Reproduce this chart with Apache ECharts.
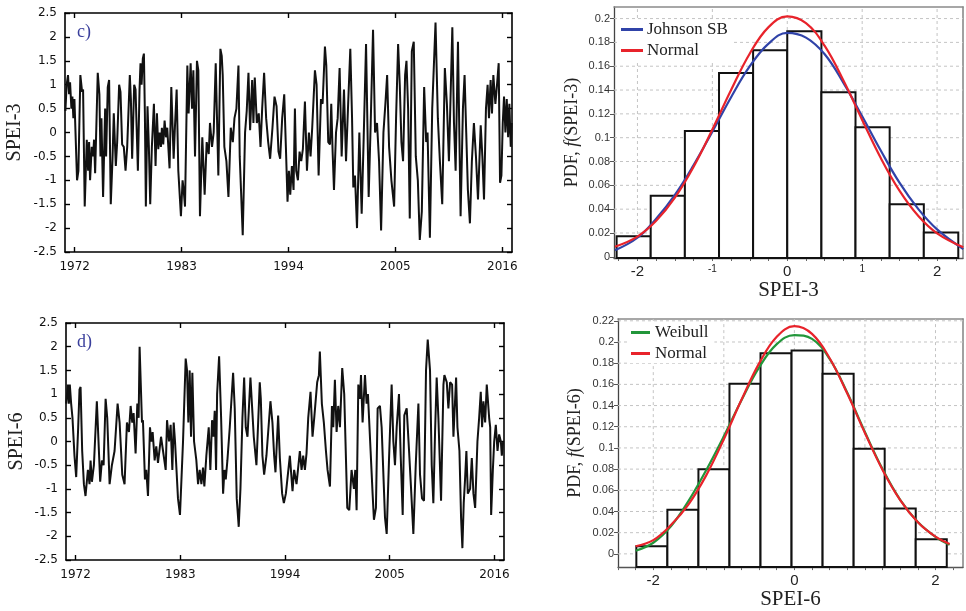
<!DOCTYPE html>
<html><head><meta charset="utf-8">
<script src="https://cdn.jsdelivr.net/npm/echarts@6/dist/echarts.min.js"></script>
<style>html,body{margin:0;padding:0;background:#fff}#c{width:966px;height:611px}</style>
</head><body><div id="c"></div>
<script>
// ---------- data ----------
const yearTicks = [1972, 1983, 1994, 2005, 2016];

const spei3 = [
[1971.04,0.45],[1971.17,1.0],[1971.31,1.2],[1971.42,0.8],[1971.52,1.05],[1971.66,0.5],[1971.76,0.75],[1971.86,0.3],[1971.97,0.7],[1972.24,-1.0],[1972.38,-0.8],[1972.58,1.2],[1972.76,0.85],[1972.86,0.9],[1973.03,-1.55],[1973.24,-0.15],[1973.38,-0.8],[1973.48,-0.2],[1973.58,-1.0],[1973.75,-0.3],[1973.89,-0.5],[1973.99,-0.15],[1974.10,-0.85],[1974.37,1.25],[1974.54,0.8],[1974.65,-0.5],[1974.75,0.3],[1974.92,-1.35],[1975.13,0.5],[1975.23,-0.5],[1975.40,0.95],[1975.54,1.1],[1975.71,-1.5],[1975.89,-0.55],[1976.02,0.4],[1976.23,-0.7],[1976.37,-0.2],[1976.57,1.0],[1976.71,0.85],[1976.88,-0.25],[1977.05,-0.3],[1977.23,-0.8],[1977.40,-0.3],[1977.67,1.2],[1977.78,0.7],[1977.91,-0.55],[1978.12,1.0],[1978.26,0.9],[1978.50,-0.8],[1978.67,0.9],[1978.77,1.45],[1978.88,1.0],[1979.01,1.55],[1979.12,1.65],[1979.22,0.4],[1979.32,-1.55],[1979.49,0.55],[1979.63,-0.3],[1979.77,-1.5],[1979.94,-0.3],[1980.15,0.6],[1980.32,-0.7],[1980.46,0.4],[1980.60,-0.35],[1980.73,0.0],[1980.87,-0.3],[1980.97,0.1],[1981.11,-0.25],[1981.25,0.25],[1981.39,-0.1],[1981.52,0.1],[1981.76,-0.75],[1981.94,0.95],[1982.18,-0.55],[1982.31,0.1],[1982.49,0.9],[1982.66,-0.8],[1982.93,-1.75],[1983.10,-1.0],[1983.21,-1.2],[1983.35,-1.55],[1983.59,1.4],[1983.72,0.4],[1983.93,1.45],[1984.07,0.5],[1984.21,1.3],[1984.38,-0.5],[1984.58,1.5],[1984.72,1.3],[1984.89,-1.75],[1985.13,-0.1],[1985.37,-1.3],[1985.58,-0.2],[1985.79,-0.45],[1985.92,0.2],[1986.13,-0.3],[1986.30,0.0],[1986.51,1.45],[1986.78,-0.9],[1986.99,1.75],[1987.13,1.6],[1987.23,1.2],[1987.40,-0.3],[1987.61,-0.6],[1987.82,-1.35],[1988.06,0.1],[1988.27,-0.2],[1988.44,0.3],[1988.64,0.5],[1988.85,1.4],[1988.98,-0.5],[1989.29,-2.15],[1989.53,0.0],[1989.70,0.45],[1989.88,1.25],[1990.05,0.05],[1990.26,1.1],[1990.39,0.2],[1990.53,1.15],[1990.74,0.2],[1990.94,0.4],[1991.12,-0.3],[1991.29,0.5],[1991.49,1.25],[1991.70,0.3],[1991.91,-0.2],[1992.11,-0.55],[1992.35,0.1],[1992.56,0.75],[1992.77,0.55],[1992.97,-0.4],[1993.14,-0.55],[1993.35,0.3],[1993.56,0.8],[1993.73,-0.3],[1993.90,-1.45],[1994.04,-0.8],[1994.18,-1.3],[1994.35,-0.7],[1994.52,-1.2],[1994.66,0.5],[1994.79,-0.8],[1994.97,-1.0],[1995.14,-0.4],[1995.31,-0.6],[1995.48,-0.35],[1995.69,0.65],[1995.90,-0.8],[1996.10,0.0],[1996.27,-0.5],[1996.44,0.1],[1996.72,1.3],[1996.89,1.0],[1997.10,-0.9],[1997.34,0.7],[1997.51,0.6],[1997.75,1.8],[1997.89,1.4],[1998.09,-0.2],[1998.27,-0.25],[1998.40,0.6],[1998.54,-0.4],[1998.68,-1.2],[1998.89,0.0],[1999.06,0.3],[1999.26,1.35],[1999.47,-0.5],[1999.71,0.9],[1999.92,-0.6],[2000.12,0.5],[2000.36,1.75],[2000.54,0.3],[2000.67,-1.15],[2000.84,-0.9],[2001.05,-2.0],[2001.29,0.0],[2001.53,-1.7],[2001.74,-0.1],[2001.98,1.85],[2002.25,-1.35],[2002.46,0.2],[2002.70,2.15],[2002.91,0.0],[2003.11,0.2],[2003.32,-0.6],[2003.53,-2.05],[2003.77,0.0],[2003.97,0.6],[2004.15,1.2],[2004.35,-0.3],[2004.59,-1.0],[2004.87,-1.55],[2005.07,0.3],[2005.28,1.85],[2005.45,1.0],[2005.62,-0.2],[2005.79,-0.6],[2006.00,1.2],[2006.14,1.5],[2006.31,0.5],[2006.48,-1.8],[2006.69,1.7],[2006.89,1.9],[2007.10,-0.5],[2007.31,-1.0],[2007.51,-2.25],[2007.72,-1.65],[2007.96,0.95],[2008.17,-0.2],[2008.31,0.0],[2008.55,-2.2],[2008.79,0.5],[2009.13,2.3],[2009.37,0.3],[2009.58,-0.6],[2009.82,-1.5],[2010.09,1.35],[2010.30,0.6],[2010.51,-0.6],[2010.86,2.2],[2011.03,0.2],[2011.20,-0.8],[2011.44,1.9],[2011.71,-1.75],[2011.95,0.5],[2012.12,1.2],[2012.29,0.0],[2012.46,-1.2],[2012.67,-1.9],[2012.87,-0.6],[2013.08,0.2],[2013.29,-0.5],[2013.50,-1.4],[2013.78,0.15],[2013.95,-0.5],[2014.12,-1.4],[2014.32,0.5],[2014.49,1.0],[2014.63,0.3],[2014.80,1.1],[2014.94,0.4],[2015.08,1.2],[2015.29,0.6],[2015.46,1.0],[2015.63,1.45],[2015.77,-1.05],[2015.91,-0.9],[2016.05,0.2],[2016.18,0.75],[2016.32,0.0],[2016.46,0.7],[2016.60,-0.1],[2016.73,0.6],[2016.87,-0.3],[2016.97,0.2]
];

const spei6 = [
[1971.02,0.8],[1971.19,1.2],[1971.30,0.8],[1971.40,1.2],[1971.54,0.8],[1971.68,0.5],[1971.89,-0.3],[1972.07,-0.75],[1972.28,0.3],[1972.42,1.1],[1972.53,1.15],[1972.70,-0.2],[1972.88,-0.9],[1973.05,-1.15],[1973.30,-0.6],[1973.47,-0.9],[1973.58,-0.4],[1973.72,-0.85],[1973.93,-0.5],[1974.24,0.85],[1974.42,0.85],[1974.59,-0.85],[1974.77,-0.4],[1974.95,-0.5],[1975.16,0.9],[1975.33,0.5],[1975.58,-0.9],[1975.82,-0.5],[1976.10,-0.2],[1976.42,0.8],[1976.63,0.4],[1976.91,-0.7],[1977.15,-0.9],[1977.40,0.4],[1977.61,0.2],[1977.79,0.75],[1977.96,0.4],[1978.10,0.6],[1978.31,-0.25],[1978.49,0.8],[1978.63,0.5],[1978.73,2.0],[1978.98,0.4],[1979.08,0.45],[1979.29,-0.8],[1979.43,-0.6],[1979.61,-1.15],[1979.82,0.3],[1979.96,0.0],[1980.10,0.2],[1980.31,-0.4],[1980.48,-0.1],[1980.66,-0.45],[1980.98,0.1],[1981.19,0.1],[1981.47,-0.6],[1981.61,0.45],[1981.82,0.0],[1981.99,0.35],[1982.17,-0.6],[1982.31,0.4],[1982.45,0.0],[1982.76,-1.2],[1982.97,-1.55],[1983.29,0.0],[1983.57,1.75],[1983.71,1.5],[1983.85,0.4],[1983.99,1.5],[1984.13,0.1],[1984.27,1.45],[1984.45,0.0],[1984.69,-0.4],[1984.87,-0.9],[1985.04,-0.6],[1985.22,-0.9],[1985.39,-0.55],[1985.53,-0.95],[1985.74,-0.3],[1985.99,0.3],[1986.16,-0.6],[1986.34,0.45],[1986.48,0.1],[1986.62,0.65],[1986.76,-0.6],[1986.87,1.0],[1987.08,1.8],[1987.29,0.5],[1987.50,-1.1],[1987.64,-0.6],[1987.78,-0.8],[1987.95,-0.4],[1988.20,0.3],[1988.55,1.45],[1988.72,0.7],[1988.93,-1.2],[1989.14,-1.8],[1989.32,-1.0],[1989.53,0.5],[1989.71,1.35],[1989.88,0.3],[1990.06,0.1],[1990.37,1.35],[1990.58,0.6],[1990.72,0.1],[1991.00,-0.5],[1991.35,1.25],[1991.46,0.9],[1991.63,-0.3],[1991.81,-0.7],[1992.05,-0.3],[1992.47,0.85],[1992.68,0.4],[1992.86,-0.3],[1993.00,-0.65],[1993.28,0.55],[1993.46,-0.35],[1993.70,-1.1],[1993.88,-1.3],[1994.09,-1.1],[1994.30,-0.7],[1994.51,-0.3],[1994.79,-1.05],[1994.96,-0.6],[1995.21,-0.9],[1995.56,-0.2],[1995.74,-0.6],[1995.91,-0.3],[1996.09,-0.6],[1996.26,-0.25],[1996.44,0.5],[1996.68,1.05],[1996.89,0.1],[1997.07,0.5],[1997.38,1.25],[1997.56,1.4],[1997.66,1.9],[1997.87,0.8],[1998.08,0.4],[1998.30,-0.2],[1998.47,-0.6],[1998.72,-0.95],[1998.93,0.75],[1999.07,0.3],[1999.24,1.3],[1999.42,0.2],[1999.59,0.75],[1999.77,0.3],[2000.01,1.55],[2000.22,1.0],[2000.54,-1.4],[2000.75,-1.45],[2000.99,-0.6],[2001.24,-1.0],[2001.38,-0.6],[2001.52,-1.45],[2001.70,1.2],[2001.87,0.9],[2001.98,1.4],[2002.15,0.4],[2002.40,1.4],[2002.57,0.8],[2002.71,1.0],[2002.99,-0.2],[2003.20,-1.1],[2003.34,-1.65],[2003.55,-1.4],[2003.73,0.7],[2003.97,0.75],[2004.15,0.3],[2004.50,-1.6],[2004.68,-1.95],[2004.92,-0.4],[2005.20,1.2],[2005.38,0.0],[2005.55,-0.5],[2005.73,0.3],[2005.97,1.0],[2006.15,-0.3],[2006.36,-1.55],[2006.53,0.55],[2006.78,0.7],[2007.03,-0.2],[2007.24,-1.0],[2007.48,-1.95],[2007.73,-0.5],[2008.01,0.8],[2008.18,-0.7],[2008.39,-1.2],[2008.60,-1.25],[2008.81,1.5],[2008.99,2.15],[2009.23,1.5],[2009.41,-0.5],[2009.58,-1.3],[2009.76,0.2],[2009.93,1.35],[2010.11,0.5],[2010.39,-1.25],[2010.64,1.2],[2010.74,1.4],[2010.99,1.25],[2011.16,0.7],[2011.34,1.25],[2011.55,1.2],[2011.69,0.1],[2011.97,1.35],[2012.11,0.3],[2012.32,-0.2],[2012.49,-1.6],[2012.63,-2.25],[2012.77,-1.3],[2012.91,-0.8],[2013.05,-0.2],[2013.20,-1.1],[2013.44,-1.0],[2013.62,-0.35],[2013.79,-1.1],[2013.97,-1.4],[2014.21,0.0],[2014.39,0.5],[2014.56,1.05],[2014.70,0.3],[2014.84,0.85],[2015.02,0.4],[2015.19,1.2],[2015.44,0.5],[2015.55,0.3],[2015.65,-1.55],[2015.83,-0.6],[2015.97,0.0],[2016.14,0.35],[2016.32,-0.2],[2016.49,0.15],[2016.67,0.0],[2016.77,-0.3],[2016.91,0.0]
];

// histograms (bin edges and heights)
const hist3Edges = [-2.278,-1.823,-1.367,-0.911,-0.456,0,0.456,0.911,1.367,1.823,2.283];
const hist3Heights = [0.0173,0.0512,0.1057,0.1544,0.1734,0.1894,0.1382,0.1088,0.0442,0.0204];
const hist6Edges = [-2.24,-1.80,-1.36,-0.92,-0.48,-0.04,0.40,0.84,1.28,1.72,2.16];
const hist6Heights = [0.0072,0.0416,0.0798,0.1606,0.1894,0.1919,0.170,0.0992,0.0429,0.0138];

// fitted pdf curves
const curve3X = [-2.3,-2.0,-1.75,-1.5,-1.25,-1.0,-0.75,-0.5,-0.25,0,0.25,0.5,0.75,1.0,1.25,1.5,1.75,2.0,2.35];
const johnson3 = [0.0055,0.016,0.032,0.052,0.077,0.105,0.134,0.160,0.179,0.188,0.184,0.170,0.146,0.118,0.089,0.062,0.040,0.023,0.0065];
const normal3 = [0.0085,0.017,0.0302,0.0496,0.0756,0.1069,0.140,0.1707,0.1928,0.2019,0.1962,0.177,0.148,0.1149,0.0827,0.0553,0.0342,0.0197,0.008];
const curve6X = [-2.25,-2.0,-1.75,-1.5,-1.25,-1.0,-0.75,-0.5,-0.25,0,0.25,0.5,0.75,1.0,1.25,1.5,1.75,2.0,2.2];
const weibull6 = [0.003,0.0105,0.026,0.050,0.079,0.111,0.145,0.176,0.198,0.2065,0.203,0.184,0.152,0.115,0.080,0.051,0.030,0.016,0.0085];
const normal6 = [0.0072,0.013,0.0272,0.0468,0.0741,0.1082,0.1454,0.1798,0.2049,0.2149,0.2076,0.1847,0.1513,0.1141,0.0792,0.0507,0.0298,0.0162,0.0093];

// axis ranges / ticks
const x3Range = [-2.313, 2.346], y3Range = [-0.001, 0.2097];
const x6Range = [-2.5, 2.39], y6Range = [-0.0125, 0.2217];
const pdf3Ticks = [0,0.02,0.04,0.06,0.08,0.1,0.12,0.14,0.16,0.18,0.2];
const pdf6Ticks = [0,0.02,0.04,0.06,0.08,0.1,0.12,0.14,0.16,0.18,0.2,0.22];
const minor3Ticks = [-2.25,-2,-1.75,-1.5,-1.25,-1,-0.75,-0.5,-0.25,0,0.25,0.5,0.75,1,1.25,1.5,1.75,2,2.25];
const minor6Ticks = [-2.5,-2.25,-2,-1.75,-1.5,-1.25,-1,-0.75,-0.5,-0.25,0,0.25,0.5,0.75,1,1.25,1.5,1.75,2,2.25];
const label3X = [-2,-1,0,1,2];
const label6X = [-2,0,2];
const vGrid = [-2,-1,0,1,2];

// ---------- chart ----------
const SANS = 'DejaVu Sans', ARIAL = 'Liberation Sans', SERIF = 'Liberation Serif';
const chart = echarts.init(document.getElementById('c'));

function tsX(grid, top) {
  return {
    gridIndex: grid, type: 'value', min: 1971, max: 2017, position: top ? 'top' : 'bottom',
    splitLine: {show: false},
    axisLine: {show: true, onZero: false, lineStyle: {color: '#000', width: 1.6}},
    axisTick: {show: true, inside: true, length: 5, customValues: yearTicks, lineStyle: {color: '#000', width: 1.4}},
    axisLabel: top ? {show: false} : {show: true, customValues: yearTicks, formatter: v => String(Math.round(v)),
      fontFamily: SANS, fontSize: 12, color: '#111', margin: 9}
  };
}
function tsY(grid, right, name, gap) {
  return {
    gridIndex: grid, type: 'value', min: -2.5, max: 2.5, interval: 0.5, position: right ? 'right' : 'left',
    splitLine: {show: false},
    axisLine: {show: true, onZero: false, lineStyle: {color: '#000', width: 1.6}},
    axisTick: {show: true, inside: true, length: 5, lineStyle: {color: '#000', width: 1.4}},
    axisLabel: right ? {show: false} : {show: true, fontFamily: SANS, fontSize: 12, color: '#111', margin: 8},
    name: right ? '' : name, nameLocation: 'middle', nameGap: gap,
    nameTextStyle: {fontFamily: SERIF, fontSize: 20, color: '#222'}
  };
}
function fmt(v) { return String(parseFloat(Number(v).toFixed(3))); }

function pdfX(grid, range, labels, minor, name, gap) {
  return {
    gridIndex: grid, type: 'value', min: range[0], max: range[1], position: 'bottom',
    splitLine: {show: false},
    axisLine: {show: true, onZero: false, lineStyle: {color: '#555', width: 1.3}},
    axisTick: {show: true, inside: false, length: 3, customValues: minor, lineStyle: {color: '#666', width: 1}},
    axisLabel: {show: true, customValues: labels, margin: 6, color: '#222',
      formatter: v => (Math.abs(v) === 1 ? '{s|' + fmt(v) + '}' : '{b|' + fmt(v) + '}'),
      rich: {b: {fontFamily: ARIAL, fontSize: 15, color: '#222'}, s: {fontFamily: ARIAL, fontSize: 10, color: '#222', padding: [0,0,6,0]}}},
    name: name, nameLocation: 'middle', nameGap: gap,
    nameTextStyle: {fontFamily: SERIF, fontSize: 21, color: '#222'}
  };
}
function frameX(grid, range) {
  return {gridIndex: grid, type: 'value', min: range[0], max: range[1], position: 'top',
    splitLine: {show: false}, axisTick: {show: false}, axisLabel: {show: false},
    axisLine: {show: true, onZero: false, lineStyle: {color: '#8a8a8a', width: 1.6}}};
}
function pdfY(grid, range, ticks, nameTxt, gap) {
  return {
    gridIndex: grid, type: 'value', min: range[0], max: range[1], position: 'left',
    splitLine: {show: false},
    axisLine: {show: true, onZero: false, lineStyle: {color: '#444', width: 1.3}},
    axisTick: {show: true, inside: false, length: 4, customValues: ticks, lineStyle: {color: '#555', width: 1}},
    axisLabel: {show: true, customValues: ticks, formatter: fmt, fontFamily: ARIAL, fontSize: 11, color: '#333', margin: 4},
    name: '{a|PDF, }{i|f}{a|(' + nameTxt + ')}', nameLocation: 'middle', nameGap: gap,
    nameTextStyle: {rich: {a: {fontFamily: SERIF, fontSize: 18, color: '#222'}, i: {fontFamily: SERIF, fontSize: 18, fontStyle: 'italic', color: '#222'}}}
  };
}
function frameY(grid, range) {
  return {gridIndex: grid, type: 'value', min: range[0], max: range[1], position: 'right',
    splitLine: {show: false}, axisTick: {show: false}, axisLabel: {show: false},
    axisLine: {show: true, onZero: false, lineStyle: {color: '#8a8a8a', width: 1.6}}};
}

function barSeries(xi, yi, edges, heights, yBase) {
  return {
    type: 'custom', xAxisIndex: xi, yAxisIndex: yi, z: 2, silent: true,
    data: heights.map((h, i) => [edges[i], edges[i + 1], h]),
    encode: {x: [0, 1], y: 2},
    renderItem: function (params, api) {
      const p0 = api.coord([api.value(0), api.value(2)]);
      const p1 = api.coord([api.value(1), yBase]);
      return {type: 'rect', shape: {x: p0[0], y: p0[1], width: p1[0] - p0[0], height: p1[1] - p0[1]},
        style: {fill: '#fff', stroke: '#111', lineWidth: 2}};
    }
  };
}
function gridSeries(xi, yi, hVals, vVals, xr, yr) {
  const data = hVals.map(v => [v, 0]).concat(vVals.map(v => [v, 1]));
  return {
    type: 'custom', xAxisIndex: xi, yAxisIndex: yi, z: 1, silent: true,
    data: data, encode: {x: 0, y: 0},
    renderItem: function (params, api) {
      const v = api.value(0), kind = api.value(1);
      let a, b;
      if (kind === 0) { a = api.coord([xr[0], v]); b = api.coord([xr[1], v]); }
      else { a = api.coord([v, yr[0]]); b = api.coord([v, yr[1]]); }
      return {type: 'line', shape: {x1: a[0], y1: a[1], x2: b[0], y2: b[1]},
        style: {stroke: '#c4c4c4', lineWidth: 1, lineDash: [3, 3]}};
    }
  };
}
function curve(xi, yi, name, xs, ys, color) {
  return {type: 'line', name: name, xAxisIndex: xi, yAxisIndex: yi, z: 3, smooth: 0.4,
    symbol: 'none', silent: true, data: xs.map((x, i) => [x, ys[i]]),
    lineStyle: {color: color, width: 2.2}, itemStyle: {color: color}};
}

const option = {
  animation: false,
  backgroundColor: '#fff',
  grid: [
    {left: 65, top: 13, width: 447, height: 239},
    {left: 66, top: 323, width: 438, height: 237},
    {left: 614, top: 7, width: 349, height: 251},
    {left: 618, top: 319, width: 345, height: 249}
  ],
  xAxis: [
    tsX(0, false), tsX(0, true), tsX(1, false), tsX(1, true),
    pdfX(2, x3Range, label3X, minor3Ticks, 'SPEI-3', 11), frameX(2, x3Range),
    pdfX(3, x6Range, label6X, minor6Ticks, 'SPEI-6', 20), frameX(3, x6Range)
  ],
  yAxis: [
    tsY(0, false, 'SPEI-3', 40), tsY(0, true), tsY(1, false, 'SPEI-6', 39), tsY(1, true),
    pdfY(2, y3Range, pdf3Ticks, 'SPEI-3', 33), frameY(2, y3Range),
    pdfY(3, y6Range, pdf6Ticks, 'SPEI-6', 34), frameY(3, y6Range)
  ],
  legend: [
    {data: ['Johnson SB', 'Normal'], left: 618, top: 20, orient: 'vertical', icon: 'rect',
     itemWidth: 22, itemHeight: 3, itemGap: 4, backgroundColor: '#fff', padding: [1, 6, 1, 3],
     selectedMode: false, textStyle: {fontFamily: SERIF, fontSize: 17, color: '#222', padding: [0, 0, 0, -1]}},
    {data: ['Weibull', 'Normal'], left: 628, top: 323, orient: 'vertical', icon: 'rect',
     itemWidth: 19, itemHeight: 3, itemGap: 4, backgroundColor: '#fff', padding: [1, 6, 1, 3],
     selectedMode: false, textStyle: {fontFamily: SERIF, fontSize: 17, color: '#222'}}
  ],
  graphic: [
    {type: 'text', left: 77, top: 23, style: {text: 'c)', font: '18px "Liberation Serif"', fill: '#3a3f9c'}},
    {type: 'text', left: 77, top: 333, style: {text: 'd)', font: '18px "Liberation Serif"', fill: '#3a3f9c'}}
  ],
  series: [
    {type: 'line', name: 's3', xAxisIndex: 0, yAxisIndex: 0, data: spei3, symbol: 'none', silent: true,
     lineStyle: {color: '#111', width: 2}, z: 3},
    {type: 'line', name: 's6', xAxisIndex: 2, yAxisIndex: 2, data: spei6, symbol: 'none', silent: true,
     lineStyle: {color: '#111', width: 2}, z: 3},
    gridSeries(4, 4, pdf3Ticks.slice(1), vGrid, x3Range, y3Range),
    barSeries(4, 4, hist3Edges, hist3Heights, y3Range[0]),
    curve(4, 4, 'Johnson SB', curve3X, johnson3, '#3043a8'),
    curve(4, 4, 'Normal', curve3X, normal3, '#e8232b'),
    gridSeries(6, 6, pdf6Ticks, vGrid, x6Range, y6Range),
    barSeries(6, 6, hist6Edges, hist6Heights, y6Range[0]),
    curve(6, 6, 'Weibull', curve6X, weibull6, '#22963a'),
    curve(6, 6, 'Normal', curve6X, normal6, '#e8232b')
  ]
};
chart.setOption(option);
</script></body></html>
